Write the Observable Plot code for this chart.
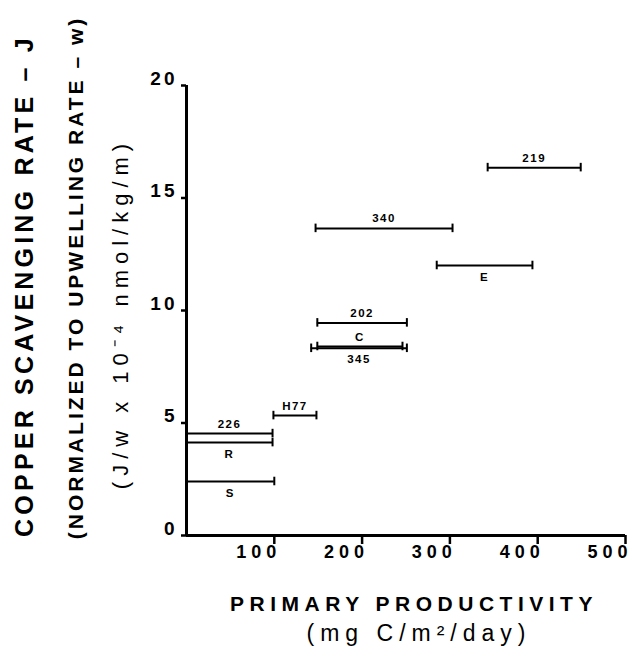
<!DOCTYPE html>
<html><head><meta charset="utf-8">
<script src="https://cdn.jsdelivr.net/npm/d3@7"></script>
<script src="https://cdn.jsdelivr.net/npm/@observablehq/plot@0.6"></script>
<style>
body{margin:0;background:#fff;}
#chart svg text{font-family:"Liberation Sans",Arial,sans-serif;}
</style></head><body><div id="chart"></div>
<script>
const labels = ["219","340","E","202","C","345","H77","226","R","S"];
const rates = [16.35,13.65,12.0,9.45,8.40,8.32,5.33,4.53,4.13,2.40];
const prodLow = [343,147,285,149,149,142,99,0,0,0];
const prodHigh = [449,303,394,251,246,251,148,98,98,100];
const labelSide = ["above","above","below","above","above","below","above","above","below","below"];
const xTicks = [100,200,300,400,500];
const yTicks = [0,5,10,15,20];
const yTitle = ["COPPER SCAVENGING RATE – J","(NORMALIZED TO UPWELLING RATE – w)","(J/w x 10⁻⁴ nmol/kg/m)"];
const xTitle = ["PRIMARY PRODUCTIVITY","(mg C/m²/day)"];

const bars = labels.map((l,i)=>({label:l, y:rates[i], x1:prodLow[i], x2:prodHigh[i], side:labelSide[i]}));
const caps = bars.flatMap(b => [b.x1, b.x2].filter(x => x > 0).map(x => ({x, y:b.y})));
const CAP = 0.19;

const chart = Plot.plot({
  width: 632, height: 656,
  marginLeft: 186, marginRight: 7, marginTop: 85, marginBottom: 121,
  x: {domain:[0,500]},
  y: {domain:[0,20]},
  style: {fontFamily:'"Liberation Sans", Arial, sans-serif', color:"black", background:"white"},
  marks: [
    Plot.ruleY(bars, {y:"y", x1:"x1", x2:"x2", strokeWidth:2}),
    Plot.ruleX(caps, {x:"x", y1:d=>d.y-CAP, y2:d=>d.y+CAP, strokeWidth:2}),
    Plot.text(bars.filter(b=>b.side==="above"), {x:d=>(d.x1+d.x2)/2, y:"y", text:"label", lineAnchor:"bottom", dy:-6, fontSize:11.5, fontWeight:"bold"}),
    Plot.text(bars.filter(b=>b.side==="below"), {x:d=>(d.x1+d.x2)/2, y:"y", text:"label", lineAnchor:"top", dy:7, fontSize:11.5, fontWeight:"bold"}),
    Plot.ruleX([0], {strokeWidth:3}),
    Plot.ruleY([0], {strokeWidth:3}),
    Plot.axisY({ticks:yTicks, tickSize:5, strokeWidth:2.5, fill:"none", label:null}),
    Plot.axisY({ticks:yTicks, tickSize:0, tickPadding:9, fontSize:19, fontWeight:"bold", lineAnchor:"bottom", dy:-1, label:null}),
    Plot.axisX({ticks:xTicks, tickSize:9, strokeWidth:2.5, fill:"none", label:null}),
    Plot.axisX({ticks:xTicks, tickSize:0, tickPadding:10, fontSize:18, fontWeight:"bold", textAnchor:"end", dx:7, label:null}),
    Plot.text([yTitle[0]], {text:d=>d, frameAnchor:"left", textAnchor:"middle", lineAnchor:"bottom", rotate:-90, dx:-154, dy:-25, fontSize:25, fontWeight:"bold"}),
    Plot.text([yTitle[1]], {text:d=>d, frameAnchor:"left", textAnchor:"middle", lineAnchor:"bottom", rotate:-90, dx:-104, dy:-33, fontSize:21, fontWeight:"bold"}),
    Plot.text([yTitle[2]], {text:d=>d, frameAnchor:"left", textAnchor:"middle", lineAnchor:"bottom", rotate:-90, dx:-59, dy:3, fontSize:22, fontWeight:"normal"}),
    Plot.text([xTitle[0]], {text:d=>d, frameAnchor:"bottom", textAnchor:"middle", lineAnchor:"bottom", dx:8, dy:75, fontSize:21, fontWeight:"bold"}),
    Plot.text([xTitle[1]], {text:d=>d, frameAnchor:"bottom", textAnchor:"middle", lineAnchor:"bottom", dx:13, dy:105, fontSize:23, fontWeight:"normal"})
  ]
});

const svg = d3.select(chart);
svg.selectAll('g[aria-label="x-axis tick label"] text').attr("letter-spacing", 5);
svg.selectAll('g[aria-label="y-axis tick label"] text').attr("letter-spacing", 3);
const spacing = new Map([[yTitle[0],4.2],[yTitle[1],3],[yTitle[2],6],[xTitle[0],5.5],[xTitle[1],6]]);
const labelSet = new Set(labels);
svg.selectAll('g[aria-label="text"] text').each(function(){
  const t = this.textContent;
  if (spacing.has(t)) this.setAttribute("letter-spacing", spacing.get(t));
  else if (labelSet.has(t)) this.setAttribute("letter-spacing", 1.5);
});
document.getElementById("chart").appendChild(chart);
</script></body></html>
